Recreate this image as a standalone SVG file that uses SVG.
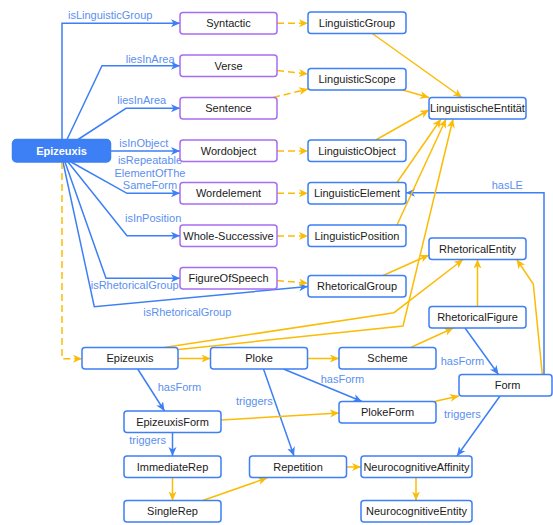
<svg xmlns="http://www.w3.org/2000/svg" width="553" height="525" viewBox="0 0 553 525">
  <defs>
    <style>
      .node rect { fill: #ffffff; stroke-width: 1.5; }
      .p rect { stroke: #a66cf2; }
      .b rect { stroke: #3d7ff5; }
      .node text { font-family: "Liberation Sans", Arial, sans-serif; font-size: 11px; fill: #1a1a1a; text-anchor: middle; }
      #n-epizeuxis rect { fill: #3d7ff5; stroke: #3d7ff5; }
      #n-epizeuxis text { fill: #ffffff; font-weight: bold; }
      .eb { fill: none; stroke: #3d7ff5; stroke-width: 1.5; marker-end: url(#mb); }
      .eo { fill: none; stroke: #fbbc05; stroke-width: 1.5; marker-end: url(#mo); }
      .ed { fill: none; stroke: #fbbc05; stroke-width: 1.5; stroke-dasharray: 7 4; marker-end: url(#mo); }
      .lbl { font-family: "Liberation Sans", Arial, sans-serif; font-size: 11px; fill: #5b8ff0; }
    </style>
    <marker id="mb" markerUnits="userSpaceOnUse" markerWidth="10" markerHeight="10" refX="9" refY="4" orient="auto">
      <path d="M0,0 L9,4 L0,8 L2.5,4 z" fill="#3d7ff5"/>
    </marker>
    <marker id="mo" markerUnits="userSpaceOnUse" markerWidth="10" markerHeight="10" refX="9" refY="4" orient="auto">
      <path d="M0,0 L9,4 L0,8 L2.5,4 z" fill="#fbbc05"/>
    </marker>
  </defs>

  <rect width="553" height="525" fill="#ffffff"/>

  <!-- connectors -->
  <g id="connectors">
    <!-- blue relations from Epizeuxis -->
    <path class="eb" d="M62,139.5 V23.2 H180"/>
    <path class="eb" d="M67,139.5 L102,65.7 H180"/>
    <path class="eb" d="M78,139.5 L126,108.3 H180"/>
    <path class="eb" d="M110.5,151 H180"/>
    <path class="eb" d="M71,162 L127,193.3 H180"/>
    <path class="eb" d="M68,162 L127,235.8 H180"/>
    <path class="eb" d="M65,162 L106,278.3 H180"/>
    <path class="eb" d="M63,162 L94.3,306.7 L308,286.5"/>
    <!-- blue relations, lower part -->
    <path class="eb" d="M544,374.5 V192.8 H406"/>
    <path class="eb" d="M465,328 L498.5,374.5"/>
    <path class="eb" d="M137.7,369 L164.5,411"/>
    <path class="eb" d="M172.5,432.5 V456"/>
    <path class="eb" d="M263.5,369 L294,456"/>
    <path class="eb" d="M283.5,369 L362,401.5"/>
    <path class="eb" d="M500,396 L457,456"/>

    <!-- dashed instance links -->
    <path class="ed" d="M62,162 V358.7 H82"/>
    <path class="ed" d="M277,23.2 H308"/>
    <path class="ed" d="M277,70.5 L308,74"/>
    <path class="ed" d="M273,97.5 L308,89"/>
    <path class="ed" d="M277,151 H308"/>
    <path class="ed" d="M277,193.3 H308"/>
    <path class="ed" d="M277,236 H308"/>
    <path class="ed" d="M277,280.5 L308,283.3"/>

    <!-- subclass links -->
    <path class="eo" d="M372.3,33.5 L462,97.5"/>
    <path class="eo" d="M401,89.5 L429,97.5"/>
    <path class="eo" d="M375.7,140 L429,110"/>
    <path class="eo" d="M397,182.5 L441,119"/>
    <path class="eo" d="M397,225 L446,119"/>
    <path class="eo" d="M178.5,349.5 L403,326 L453,119"/>
    <path class="eo" d="M164,347.5 L394,312.7 L463,259.5"/>
    <path class="eo" d="M383,275.5 L429,255"/>
    <path class="eo" d="M477.5,306.5 V259.5"/>
    <path class="eo" d="M542.3,374.5 L533.3,284 L516.7,259.5"/>
    <path class="eo" d="M410.7,347.5 L453.3,328"/>
    <path class="eo" d="M178,358.5 H210.5"/>
    <path class="eo" d="M307.5,358.5 H339"/>
    <path class="eo" d="M221,420 L339,413"/>
    <path class="eo" d="M434.3,401.5 L459,396"/>
    <path class="eo" d="M172.5,477.5 V500.5"/>
    <path class="eo" d="M202.7,500.5 L267,478"/>
    <path class="eo" d="M346.5,467 H361"/>
    <path class="eo" d="M416,477.5 V500.5"/>

    <!-- connector labels -->
    <text class="lbl" x="68" y="19">isLinguisticGroup</text>
    <text class="lbl" x="125.7" y="63">liesInArea</text>
    <text class="lbl" x="117.3" y="104">liesInArea</text>
    <text class="lbl" x="119.3" y="146.5">isInObject</text>
    <text class="lbl" x="150" y="164" text-anchor="middle">isRepeatable</text>
    <text class="lbl" x="150" y="176.5" text-anchor="middle">ElementOfThe</text>
    <text class="lbl" x="150" y="189" text-anchor="middle">SameForm</text>
    <text class="lbl" x="125" y="222">isInPosition</text>
    <text class="lbl" x="90.7" y="289">isRhetoricalGroup</text>
    <text class="lbl" x="143.3" y="316">isRhetoricalGroup</text>
    <text class="lbl" x="491.7" y="189">hasLE</text>
    <text class="lbl" x="440.7" y="365">hasForm</text>
    <text class="lbl" x="157.7" y="391">hasForm</text>
    <text class="lbl" x="129.3" y="444">triggers</text>
    <text class="lbl" x="236" y="405">triggers</text>
    <text class="lbl" x="320.7" y="383">hasForm</text>
    <text class="lbl" x="444" y="417.5">triggers</text>
  </g>

  <!-- nodes -->
  <g id="n-epizeuxis" class="node"><rect x="12.5" y="139.5" width="98" height="22.5" rx="4"/><text x="61.5" y="155">Epizeuxis</text></g>

  <g id="n-syntactic" class="node p"><rect x="180" y="12.5" width="97" height="21.5" rx="3"/><text x="228.5" y="27.2">Syntactic</text></g>
  <g id="n-verse" class="node p"><rect x="180" y="55" width="97" height="21.5" rx="3"/><text x="228.5" y="69.7">Verse</text></g>
  <g id="n-sentence" class="node p"><rect x="180" y="97.5" width="97" height="21.5" rx="3"/><text x="228.5" y="112.2">Sentence</text></g>
  <g id="n-wordobject" class="node p"><rect x="180" y="140" width="97" height="21.5" rx="3"/><text x="228.5" y="154.7">Wordobject</text></g>
  <g id="n-wordelement" class="node p"><rect x="180" y="182.5" width="97" height="21.5" rx="3"/><text x="228.5" y="197.2">Wordelement</text></g>
  <g id="n-wholesuccessive" class="node p"><rect x="180" y="225" width="97" height="21.5" rx="3"/><text x="228.5" y="239.7">Whole-Successive</text></g>
  <g id="n-figureofspeech" class="node p"><rect x="180" y="267.5" width="97" height="21.5" rx="3"/><text x="228.5" y="282.2">FigureOfSpeech</text></g>

  <g id="n-linguisticgroup" class="node b"><rect x="308" y="12" width="98" height="21.5" rx="3"/><text x="357" y="26.7">LinguisticGroup</text></g>
  <g id="n-linguisticscope" class="node b"><rect x="308" y="68.5" width="98" height="21.5" rx="3"/><text x="357" y="83.2">LinguisticScope</text></g>
  <g id="n-linguisticobject" class="node b"><rect x="308" y="140" width="98" height="21.5" rx="3"/><text x="357" y="154.7">LinguisticObject</text></g>
  <g id="n-linguisticelement" class="node b"><rect x="308" y="182.5" width="98" height="21.5" rx="3"/><text x="357" y="197.2">LinguisticElement</text></g>
  <g id="n-linguisticposition" class="node b"><rect x="308" y="225" width="98" height="21.5" rx="3"/><text x="357" y="239.7">LinguisticPosition</text></g>
  <g id="n-rhetoricalgroup" class="node b"><rect x="308" y="275.5" width="98" height="21.5" rx="3"/><text x="357" y="290.2">RhetoricalGroup</text></g>

  <g id="n-linguistischeentitaet" class="node b"><rect x="429" y="97.5" width="97" height="21.5" rx="3"/><text x="477.5" y="112.2">LinguistischeEntität</text></g>
  <g id="n-rhetoricalentity" class="node b"><rect x="429" y="238" width="97" height="21.5" rx="3"/><text x="477.5" y="252.7">RhetoricalEntity</text></g>
  <g id="n-rhetoricalfigure" class="node b"><rect x="429" y="306.5" width="97" height="21.5" rx="3"/><text x="477.5" y="321.2">RhetoricalFigure</text></g>
  <g id="n-form" class="node b"><rect x="459" y="374.5" width="93" height="21.5" rx="3"/><text x="507.5" y="389.2">Form</text></g>

  <g id="n-epizeuxis-class" class="node b"><rect x="82" y="347.5" width="96" height="21.5" rx="3"/><text x="130" y="362.2">Epizeuxis</text></g>
  <g id="n-ploke" class="node b"><rect x="210.5" y="347.5" width="97" height="21.5" rx="3"/><text x="259" y="362.2">Ploke</text></g>
  <g id="n-scheme" class="node b"><rect x="339" y="347.5" width="97" height="21.5" rx="3"/><text x="387.5" y="362.2">Scheme</text></g>
  <g id="n-epizeuxisform" class="node b"><rect x="124" y="411" width="97" height="21.5" rx="3"/><text x="172.5" y="425.7">EpizeuxisForm</text></g>
  <g id="n-plokeform" class="node b"><rect x="339" y="401.5" width="97" height="21.5" rx="3"/><text x="387.5" y="416.2">PlokeForm</text></g>
  <g id="n-immediaterep" class="node b"><rect x="124" y="456" width="97" height="21.5" rx="3"/><text x="172.5" y="470.7">ImmediateRep</text></g>
  <g id="n-singlerep" class="node b"><rect x="124" y="500.5" width="97" height="21.5" rx="3"/><text x="172.5" y="515.2">SingleRep</text></g>
  <g id="n-repetition" class="node b"><rect x="249.5" y="456" width="97" height="21.5" rx="3"/><text x="298" y="470.7">Repetition</text></g>
  <g id="n-neuroaffinity" class="node b"><rect x="361" y="456" width="111" height="21.5" rx="3"/><text x="416.5" y="470.7">NeurocognitiveAffinity</text></g>
  <g id="n-neuroentity" class="node b"><rect x="361" y="500.5" width="111" height="21.5" rx="3"/><text x="416.5" y="515.2">NeurocognitiveEntity</text></g>
</svg>
